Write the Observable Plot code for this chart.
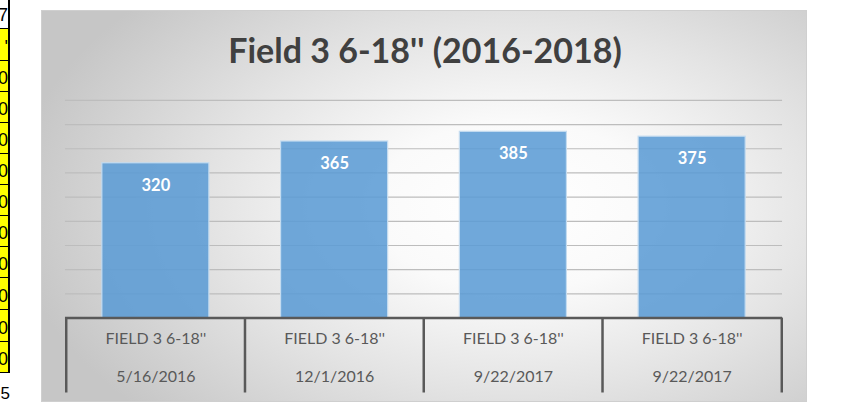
<!DOCTYPE html>
<html>
<head>
<meta charset="utf-8">
<script src="https://cdn.jsdelivr.net/npm/d3@7"></script>
<script src="https://cdn.jsdelivr.net/npm/@observablehq/plot@0.6"></script>
<style>
  html, body { margin: 0; padding: 0; background: #ffffff; }
  #page { position: relative; width: 863px; height: 404px; overflow: hidden; background: #ffffff; }
  #sheet { position: absolute; left: 0; top: 0; width: 14px; height: 404px; }
  .cell { position: absolute; left: 0; width: 10px; box-sizing: border-box; border-right: 2px solid #000; border-top: 1px solid #000;
          overflow: hidden; font-family: "Liberation Sans", Arial, sans-serif; font-size: 18px; color: #000; }
  .cell span { position: absolute; right: 0px; bottom: 2px; white-space: nowrap; }
  .tail { position: absolute; left: 0; font-family: "Liberation Sans", Arial, sans-serif; font-size: 17px; color: #000; overflow: hidden; width: 10px; }
  .tail span { position: absolute; right: 0px; }
  #panel { position: absolute; left: 41px; top: 10px; width: 766px; height: 392px; box-sizing: border-box;
           border: 1px solid #cfcfcf;
           background: radial-gradient(ellipse 66% 78% at 62% 50%, #ffffff 0%, #fafafa 28%, #e4e4e4 60%, #c6c6c6 100%); }
  #title { position: absolute; left: 0; width: 766px; top: 19px; text-align: center; font-family: Lato, "Open Sans", sans-serif;
           font-weight: 700; font-size: 34px; color: #404040; line-height: 40px; }
  #chart { position: absolute; left: -1px; top: -1px; }
</style>
</head>
<body>
<div id="page">
  <div id="sheet"></div>
  <div id="panel">
    <div id="title"></div>
    <div id="chart"></div>
  </div>
</div>
<script>
// ---- data ----
const keys = ["S1", "S2", "S3", "S4"];
const sampleNames = ["FIELD 3 6-18''", "FIELD 3 6-18''", "FIELD 3 6-18''", "FIELD 3 6-18''"];
const sampleDates = ["5/16/2016", "12/1/2016", "9/22/2017", "9/22/2017"];
const values = [320, 365, 385, 375];
const gridTicks = [50, 100, 150, 200, 250, 300, 350, 400, 450];
const yDomain = [0, 450];
const titleText = "Field 3 6-18'' (2016-2018)";

// spreadsheet fragment at the left edge
const sheetTexts = ["7", "'", "0", "0", "0", "0", "0", "0", "0", "0", "0", "0", "0"];
const sheetTail = "5";

// ---- spreadsheet fragment ----
const sheet = document.getElementById("sheet");
const rowTops = [-2, 28, 60, 91, 122, 153, 184, 215, 246, 277, 309, 341, 372];
sheetTexts.forEach((t, i) => {
  const c = document.createElement("div");
  c.className = "cell";
  const top = rowTops[i];
  c.style.top = top + "px";
  c.style.height = (i + 1 < rowTops.length ? rowTops[i + 1] - top : 0) + "px";
  c.style.background = i === 0 ? "#ffffff" : "#ffff00";
  const s = document.createElement("span");
  s.textContent = t;
  c.appendChild(s);
  sheet.appendChild(c);
});
const last = document.createElement("div");
last.className = "cell";
last.style.top = "372px";
last.style.height = "1px";
last.style.borderRight = "none";
sheet.appendChild(last);
const tail = document.createElement("div");
tail.className = "tail";
tail.style.top = "384px";
tail.style.height = "20px";
const ts = document.createElement("span");
ts.textContent = sheetTail;
tail.appendChild(ts);
sheet.appendChild(tail);

// ---- chart ----
document.getElementById("title").textContent = titleText;

const rows = keys.map((k, i) => ({key: k, name: sampleNames[i], date: sampleDates[i], value: values[i]}));

const W = 766, H = 392, ML = 24, MR = 24, MT = 90, MB = 84;
const step = (W - ML - MR) / keys.length;
const barInset = step * 0.2;
const axisColor = "#595959";
const labelFont = "Lato, 'Open Sans', sans-serif";

const chart = Plot.plot({
  width: W,
  height: H,
  marginLeft: ML,
  marginRight: MR,
  marginTop: MT,
  marginBottom: MB,
  style: { background: "transparent", fontFamily: labelFont, overflow: "visible" },
  x: { type: "band", domain: keys, padding: 0, axis: null },
  y: { domain: yDomain, axis: null },
  marks: [
    Plot.ruleY(gridTicks, { stroke: "#bdbdbd", strokeWidth: 1.2 }),
    Plot.barY(rows, {
      x: "key", y: "value",
      fill: "#5b9bd5", fillOpacity: 0.87,
      stroke: "#c5dcf0", strokeWidth: 1.2,
      insetLeft: barInset, insetRight: barInset
    }),
    Plot.text(rows, {
      x: "key", y: "value", text: d => String(d.value),
      dy: 22, fill: "#ffffff", fontWeight: "bold", fontSize: 16.5
    }),
    Plot.ruleY([0], { stroke: axisColor, strokeWidth: 2.5 }),
    Plot.ruleX(rows, {
      x: "key", dx: -step / 2, insetTop: H - MT - MB, insetBottom: -75,
      stroke: axisColor, strokeWidth: 2.5
    }),
    Plot.ruleX(rows.slice(-1), {
      x: "key", dx: step / 2, insetTop: H - MT - MB, insetBottom: -75,
      stroke: axisColor, strokeWidth: 2.5
    }),
    Plot.text(rows, {
      x: "key", text: "name", frameAnchor: "bottom", dy: 26,
      fill: "#595959", fontSize: 16
    }),
    Plot.text(rows, {
      x: "key", text: "date", frameAnchor: "bottom", dy: 64,
      fill: "#595959", fontSize: 16
    })
  ]
});
document.getElementById("chart").appendChild(chart);
</script>
</body>
</html>
